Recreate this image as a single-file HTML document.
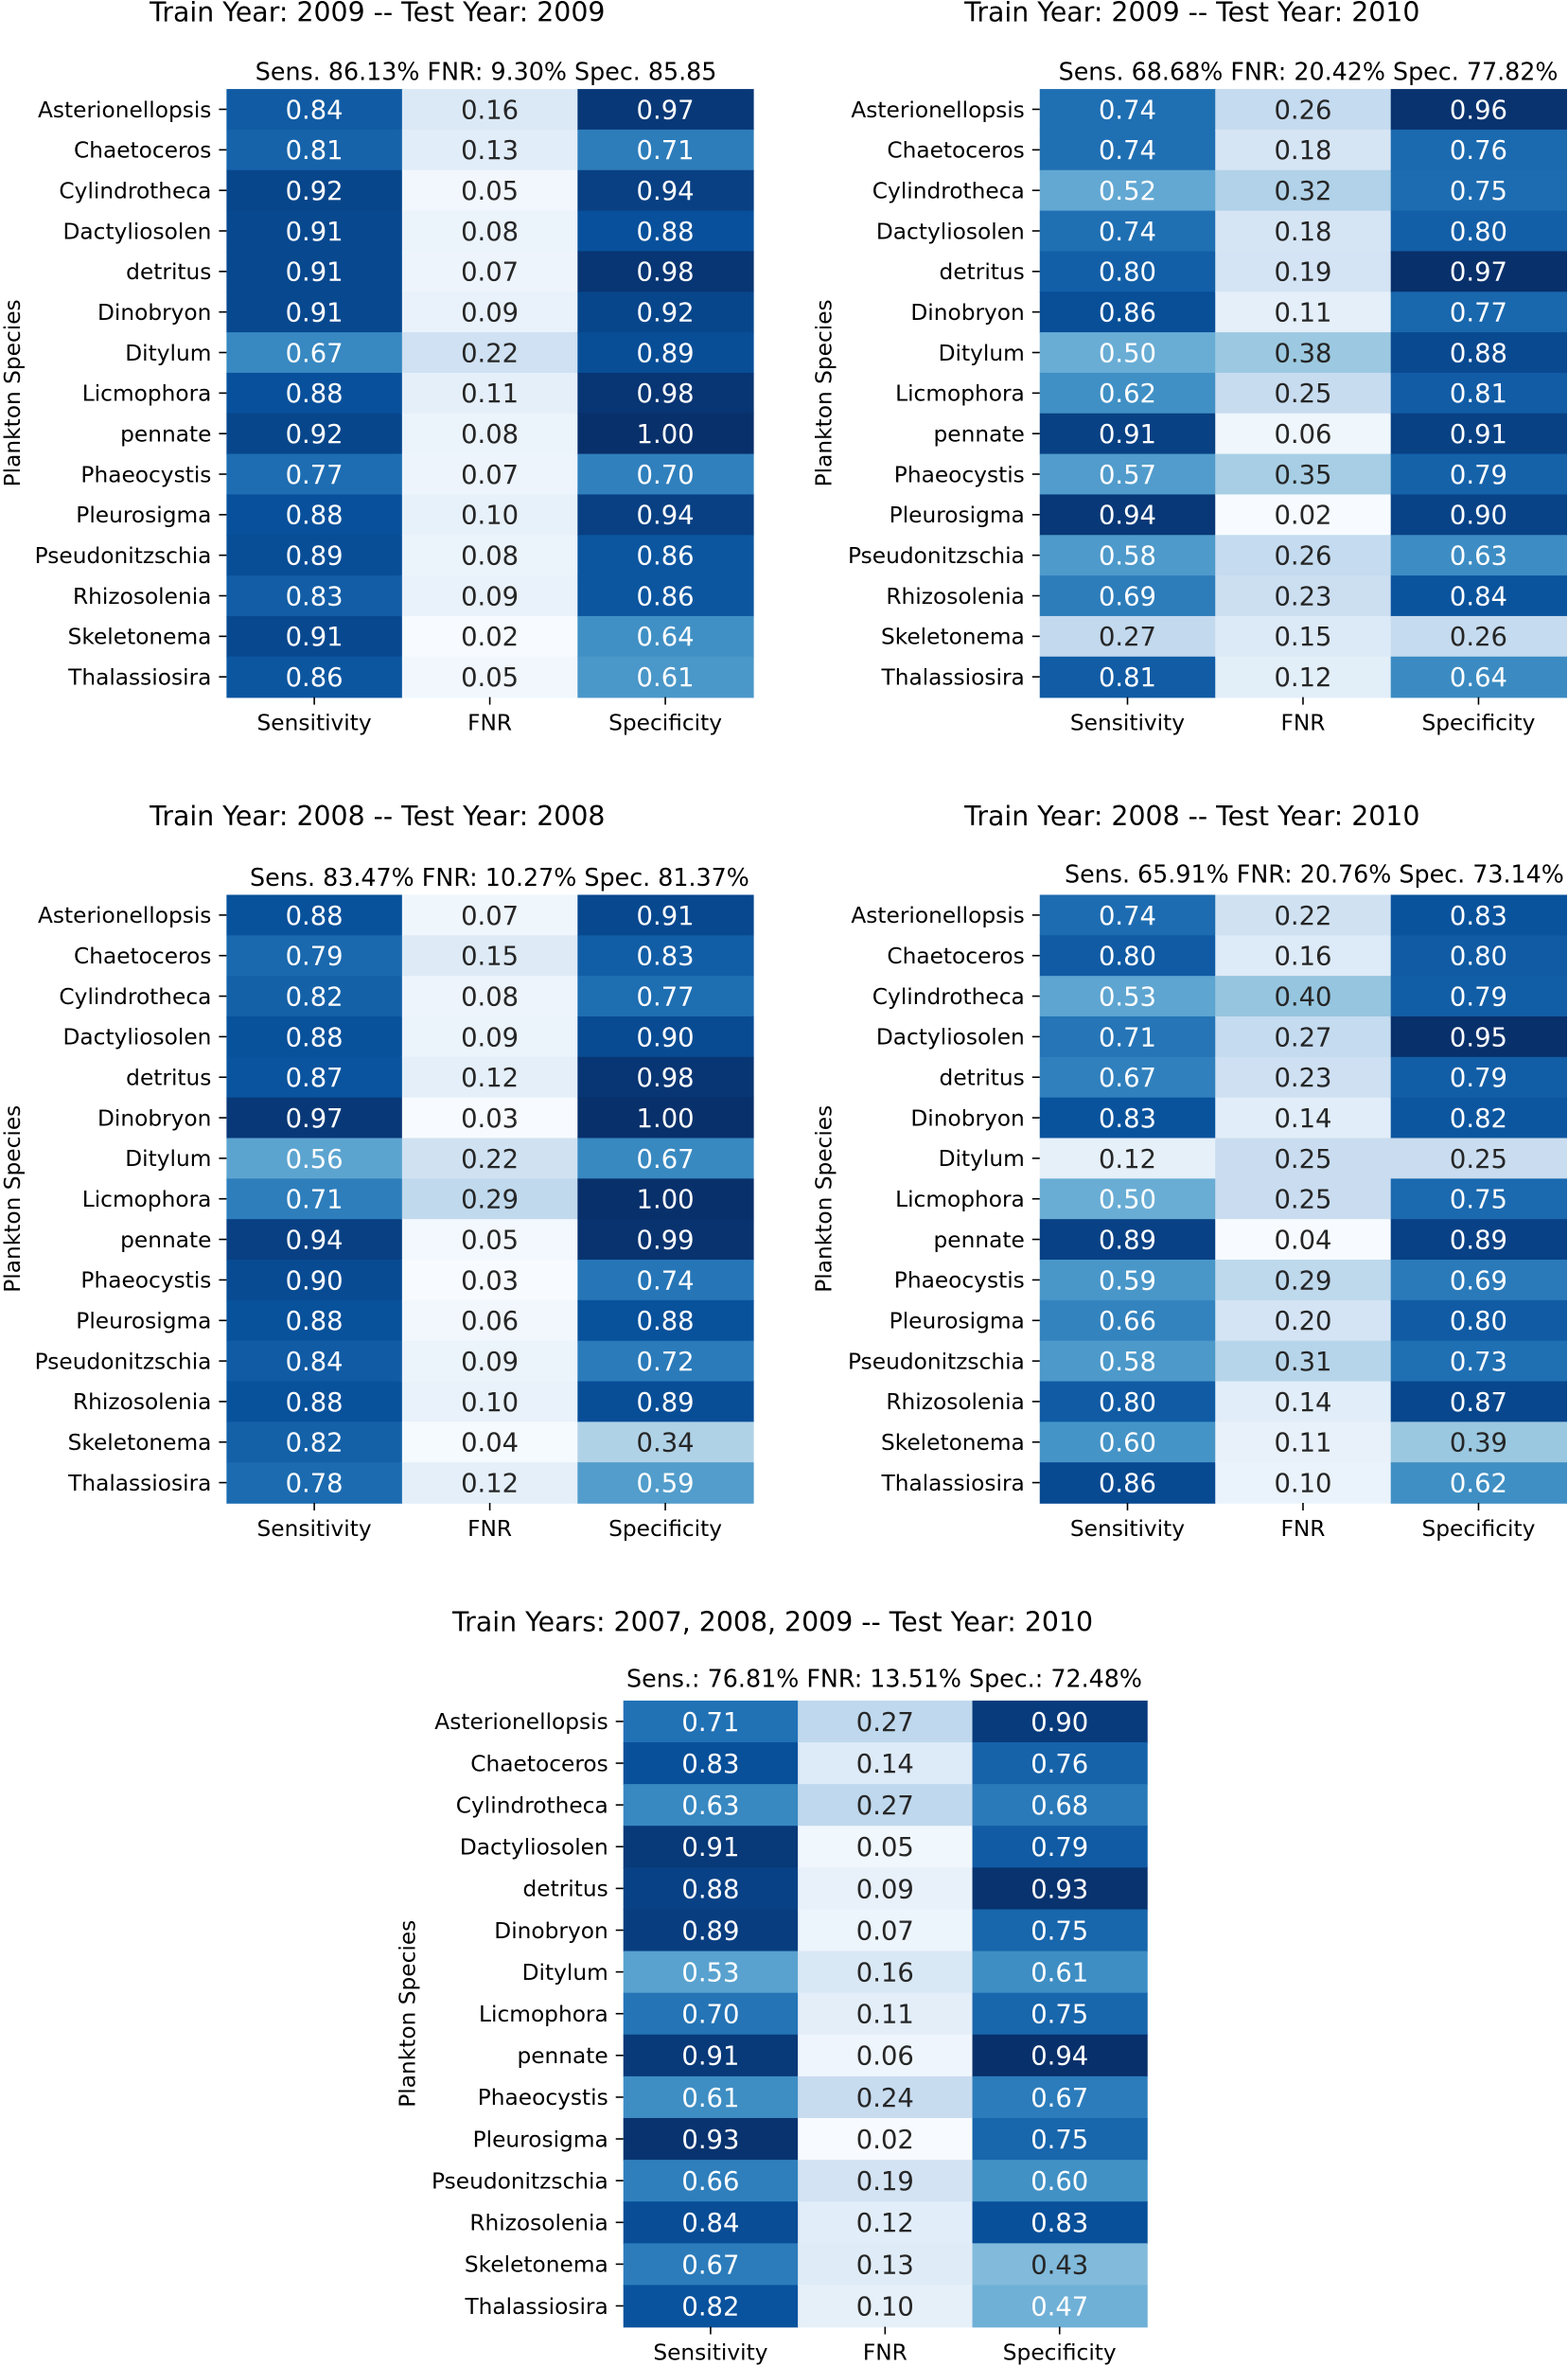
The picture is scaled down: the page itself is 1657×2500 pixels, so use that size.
<!DOCTYPE html>
<html><head><meta charset="utf-8">
<style>
html,body{margin:0;padding:0;background:#fff;}
svg{display:block;font-family:"DejaVu Sans","Liberation Sans",sans-serif;}
</style></head>
<body>
<svg id="fig" width="1657" height="2500" viewBox="0 0 1039 1568" xmlns="http://www.w3.org/2000/svg"></svg>
<script>
const species = ["Asterionellopsis","Chaetoceros","Cylindrotheca","Dactyliosolen","detritus","Dinobryon","Ditylum","Licmophora","pennate","Phaeocystis","Pleurosigma","Pseudonitzschia","Rhizosolenia","Skeletonema","Thalassiosira"];
const metrics = ["Sensitivity","FNR","Specificity"];

const p1Sens = [.84,.81,.92,.91,.91,.91,.67,.88,.92,.77,.88,.89,.83,.91,.86];
const p1Fnr  = [.16,.13,.05,.08,.07,.09,.22,.11,.08,.07,.10,.08,.09,.02,.05];
const p1Spec = [.97,.71,.94,.88,.98,.92,.89,.98,1.00,.70,.94,.86,.86,.64,.61];
const p2Sens = [.74,.74,.52,.74,.80,.86,.50,.62,.91,.57,.94,.58,.69,.27,.81];
const p2Fnr  = [.26,.18,.32,.18,.19,.11,.38,.25,.06,.35,.02,.26,.23,.15,.12];
const p2Spec = [.96,.76,.75,.80,.97,.77,.88,.81,.91,.79,.90,.63,.84,.26,.64];
const p3Sens = [.88,.79,.82,.88,.87,.97,.56,.71,.94,.90,.88,.84,.88,.82,.78];
const p3Fnr  = [.07,.15,.08,.09,.12,.03,.22,.29,.05,.03,.06,.09,.10,.04,.12];
const p3Spec = [.91,.83,.77,.90,.98,1.00,.67,1.00,.99,.74,.88,.72,.89,.34,.59];
const p4Sens = [.74,.80,.53,.71,.67,.83,.12,.50,.89,.59,.66,.58,.80,.60,.86];
const p4Fnr  = [.22,.16,.40,.27,.23,.14,.25,.25,.04,.29,.20,.31,.14,.11,.10];
const p4Spec = [.83,.80,.79,.95,.79,.82,.25,.75,.89,.69,.80,.73,.87,.39,.62];
const p5Sens = [.71,.83,.63,.91,.88,.89,.53,.70,.91,.61,.93,.66,.84,.67,.82];
const p5Fnr  = [.27,.14,.27,.05,.09,.07,.16,.11,.06,.24,.02,.19,.12,.13,.10];
const p5Spec = [.90,.76,.68,.79,.93,.75,.61,.75,.94,.67,.75,.60,.83,.43,.47];

const titles = ["Train Year: 2009 -- Test Year: 2009","Train Year: 2009 -- Test Year: 2010","Train Year: 2008 -- Test Year: 2008","Train Year: 2008 -- Test Year: 2010","Train Years: 2007, 2008, 2009 -- Test Year: 2010"];
const subtitles = ["Sens. 86.13% FNR: 9.30% Spec. 85.85","Sens. 68.68% FNR: 20.42% Spec. 77.82%","Sens. 83.47% FNR: 10.27% Spec. 81.37%","Sens. 65.91% FNR: 20.76% Spec. 73.14%","Sens.: 76.81% FNR: 13.51% Spec.: 72.48%"];

const layouts = [
  {x0:150,x1:499,y0:59,y1:462,tx:250,ty:14,sx:322,sy:53,yl:4},
  {x0:689,x1:1038,y0:59,y1:462,tx:790,ty:14,sx:867,sy:53,yl:542},
  {x0:150,x1:499,y0:593,y1:996,tx:250,ty:547,sx:331,sy:587,yl:4},
  {x0:689,x1:1038,y0:593,y1:996,tx:790,ty:547,sx:871,sy:585,yl:542},
  {x0:413,x1:760,y0:1127,y1:1542,tx:512,ty:1081,sx:586,sy:1118,yl:266}
];
const panels = [[p1Sens,p1Fnr,p1Spec],[p2Sens,p2Fnr,p2Spec],[p3Sens,p3Fnr,p3Spec],[p4Sens,p4Fnr,p4Spec],[p5Sens,p5Fnr,p5Spec]];

const stops = ["#f7fbff","#deebf7","#c6dbef","#9ecae1","#6baed6","#4292c6","#2171b5","#08519c","#08306b"].map(h=>[1,3,5].map(i=>parseInt(h.substr(i,2),16)));
function blues(t){
  t=Math.max(0,Math.min(1,t))*8; const i=Math.min(7,Math.floor(t)), f=t-i;
  return stops[i].map((c,k)=>Math.round(c+(stops[i+1][k]-c)*f));
}
function lum(c){const l=c.map(v=>{v/=255;return v<=0.03928?v/12.92:Math.pow((v+0.055)/1.055,2.4);});return 0.2126*l[0]+0.7152*l[1]+0.0722*l[2];}

const NS="http://www.w3.org/2000/svg";
const svg=document.getElementById('fig');
function mk(tag,attrs,parent){const e=document.createElementNS(NS,tag);for(const k in attrs)e.setAttribute(k,attrs[k]);(parent||svg).appendChild(e);return e;}
function txt(s,attrs,parent){const e=mk('text',attrs,parent);e.textContent=s;return e;}

panels.forEach((cols,p)=>{
  const L=layouts[p];
  const g=mk('g',{});
  
  
  const all=cols.flat(); const vmin=Math.min(...all), vmax=Math.max(...all);
  const cw=(L.x1-L.x0)/metrics.length, rh=(L.y1-L.y0)/species.length;
  const xs=j=>L.x0+j*cw, ys=i=>L.y0+i*rh;
  const t=txt(titles[p],{x:L.tx,y:L.ty,'font-size':17.8,'text-anchor':'middle',fill:'#000'},g);
  
  
  const st=txt(subtitles[p],{x:L.sx,y:L.sy,'font-size':15.9,'text-anchor':'middle',fill:'#000'},g);
  
  
  cols.forEach((vals,j)=>{
    vals.forEach((v,i)=>{
      const c=blues((v-vmin)/(vmax-vmin));
      const r=mk('rect',{x:xs(j),y:ys(i),width:cw+0.5,height:rh+0.5,fill:`rgb(${c})`},g);
      
      
      const tc=lum(c)<0.408?'#fff':'#262626';
      const lt=txt(v.toFixed(2),{x:xs(j)+cw/2,y:ys(i)+rh/2+6.2,'font-size':17.2,'text-anchor':'middle',fill:tc},g);
      
      
    });
    mk('line',{x1:xs(j)+cw/2,x2:xs(j)+cw/2,y1:L.y1,y2:L.y1+5,stroke:'#000','stroke-width':1},g);
    const xl=txt(metrics[j],{x:xs(j)+cw/2,y:L.y1+22,'font-size':14.6,'text-anchor':'middle',fill:'#000'},g);
    
    
  });
  species.forEach((s,i)=>{
    mk('line',{x1:L.x0-5,x2:L.x0,y1:ys(i)+rh/2,y2:ys(i)+rh/2,stroke:'#000','stroke-width':1},g);
    const yl=txt(s,{x:L.x0-10,y:ys(i)+rh/2+5.2,'font-size':14.6,'text-anchor':'end',fill:'#000'},g);
    
    
  });
  const cy=(L.y0+L.y1)/2;
  const ya=txt('Plankton Species',{x:L.yl+4,y:cy,'font-size':14.6,'text-anchor':'middle',fill:'#000',transform:`rotate(-90 ${L.yl+4} ${cy}) translate(0 5)`},g);
  
  
});
</script>
</body></html>
